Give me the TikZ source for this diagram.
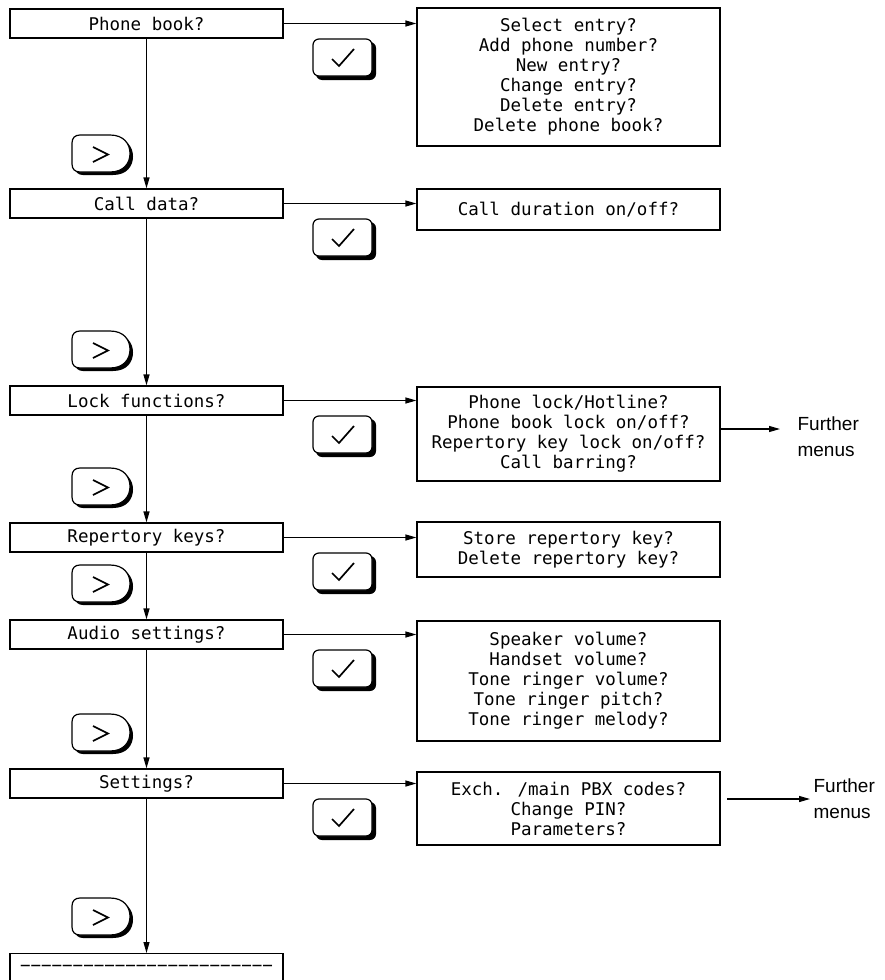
\documentclass[tikz,border=0pt]{standalone}
\usepackage{fontspec}
\newfontfamily\lcd{DejaVu Sans Mono}
\newfontfamily\hel{Liberation Sans}
\usetikzlibrary{arrows.meta}
\begin{document}
\begin{tikzpicture}[x=1pt,y=-1pt,line width=1.2pt,
  menubox/.style={draw,minimum width=273pt,minimum height=29pt,inner sep=0pt,
    font=\lcd\fontsize{17.5}{20}\selectfont},
  optbox/.style={draw,minimum width=303pt,inner sep=0pt,align=center,
    font=\lcd\fontsize{17.5}{20}\selectfont},
  conn/.style={-{Triangle[length=11pt,width=6pt]}},
  further/.style={align=left,anchor=west,inner sep=0pt,
    font=\hel\fontsize{19}{26}\selectfont},
  okkey/.pic={
    \fill[rounded corners=6pt] (3,3) rectangle (63,41);
    \draw[fill=white,rounded corners=6pt] (0,0) rectangle (59,37);
    \draw[line width=1.7pt] (19,20) -- (26,27) -- (41,10);
  },
  nextkey/.pic={
    \begin{scope}[shift={(3,3)}]
      \fill (8,0) -- (38,0) .. controls (52,0) and (58,9) .. (58,18.5)
        .. controls (58,28) and (52,37) .. (38,37) -- (8,37)
        .. controls (3,37) and (0,34) .. (0,29) -- (0,8)
        .. controls (0,3) and (3,0) .. (8,0) -- cycle;
    \end{scope}
    \draw[fill=white] (8,0) -- (38,0) .. controls (52,0) and (58,9) .. (58,18.5)
        .. controls (58,28) and (52,37) .. (38,37) -- (8,37)
        .. controls (3,37) and (0,34) .. (0,29) -- (0,8)
        .. controls (0,3) and (3,0) .. (8,0) -- cycle;
    \draw[line width=1.7pt] (21,12) -- (36,19.5) -- (21,27);
  }]
\useasboundingbox (0,0) rectangle (885,980);

% left menu column
\node[menubox] (pb) at (146.5,23.5) {Phone book?};
\node[menubox] (cd) at (146.5,203.5) {Call data?};
\node[menubox] (lf) at (146.5,400.5) {Lock functions?};
\node[menubox] (rk) at (146.5,537.5) {Repertory keys?};
\node[menubox] (as) at (146.5,634.5) {Audio settings?};
\node[menubox] (st) at (146.5,783.5) {Settings?};
\node[menubox,minimum height=40pt,anchor=north] (lastbox) at (146.5,953) {};
\node[inner sep=0pt,font=\lcd\fontsize{17.5}{20}\selectfont] (dashes) at (146.5,968) {−−−−−−−−−−−−−−−−−−−−−−−−};

% right option boxes
\node[optbox,minimum height=138pt] (pbR) at (568.5,77)
  {Select entry?\\Add phone number?\\New entry?\\Change entry?\\Delete entry?\\Delete phone book?};
\node[optbox,minimum height=41pt] (cdR) at (568.5,209.5) {Call duration on/off?};
\node[optbox,minimum height=94pt] (lfR) at (568.5,434)
  {Phone lock/Hotline?\\Phone book lock on/off?\\Repertory key lock on/off?\\Call barring?};
\node[optbox,minimum height=55pt] (rkR) at (568.5,549.5)
  {Store repertory key?\\Delete repertory key?};
\node[optbox,minimum height=120pt] (asR) at (568.5,681)
  {Speaker volume?\\Handset volume?\\Tone ringer volume?\\Tone ringer pitch?\\Tone ringer melody?};
\node[optbox,minimum height=73pt] (stR) at (568.5,808.5)
  {Exch. /main PBX codes?\\Change PIN?\\Parameters?};

% further menus
\node[further] (fm1) at (797,437) {Further\\menus};
\node[further] (fm2) at (813,799) {Further\\menus};
\coordinate (fm1a) at (720,429);
\coordinate (fm1b) at (780,429);
\coordinate (fm2a) at (727,799);
\coordinate (fm2b) at (810,799);

% connectors
\draw[conn] (pb.south) -- (cd.north);
\draw[conn] (cd.south) -- (lf.north);
\draw[conn] (lf.south) -- (rk.north);
\draw[conn] (rk.south) -- (as.north);
\draw[conn] (as.south) -- (st.north);
\draw[conn] (st.south) -- (lastbox.north);

\draw[conn] (pb.east) -- (pb.east -| pbR.west);
\draw[conn] (cd.east) -- (cd.east -| cdR.west);
\draw[conn] (lf.east) -- (lf.east -| lfR.west);
\draw[conn] (rk.east) -- (rk.east -| rkR.west);
\draw[conn] (as.east) -- (as.east -| asR.west);
\draw[conn] (st.east) -- (st.east -| stR.west);

\draw[conn] (fm1a) -- (fm1b);
\draw[conn] (fm2a) -- (fm2b);

% keys
\pic (ok1) at (313,39) {okkey};
\pic (ok2) at (313,219) {okkey};
\pic (ok3) at (313,416) {okkey};
\pic (ok4) at (313,553) {okkey};
\pic (ok5) at (313,650) {okkey};
\pic (ok6) at (313,799) {okkey};

\pic (nx1) at (72,135) {nextkey};
\pic (nx2) at (72,331) {nextkey};
\pic (nx3) at (72,468) {nextkey};
\pic (nx4) at (72,565) {nextkey};
\pic (nx5) at (72,714) {nextkey};
\pic (nx6) at (72,898) {nextkey};
\end{tikzpicture}
\end{document}
